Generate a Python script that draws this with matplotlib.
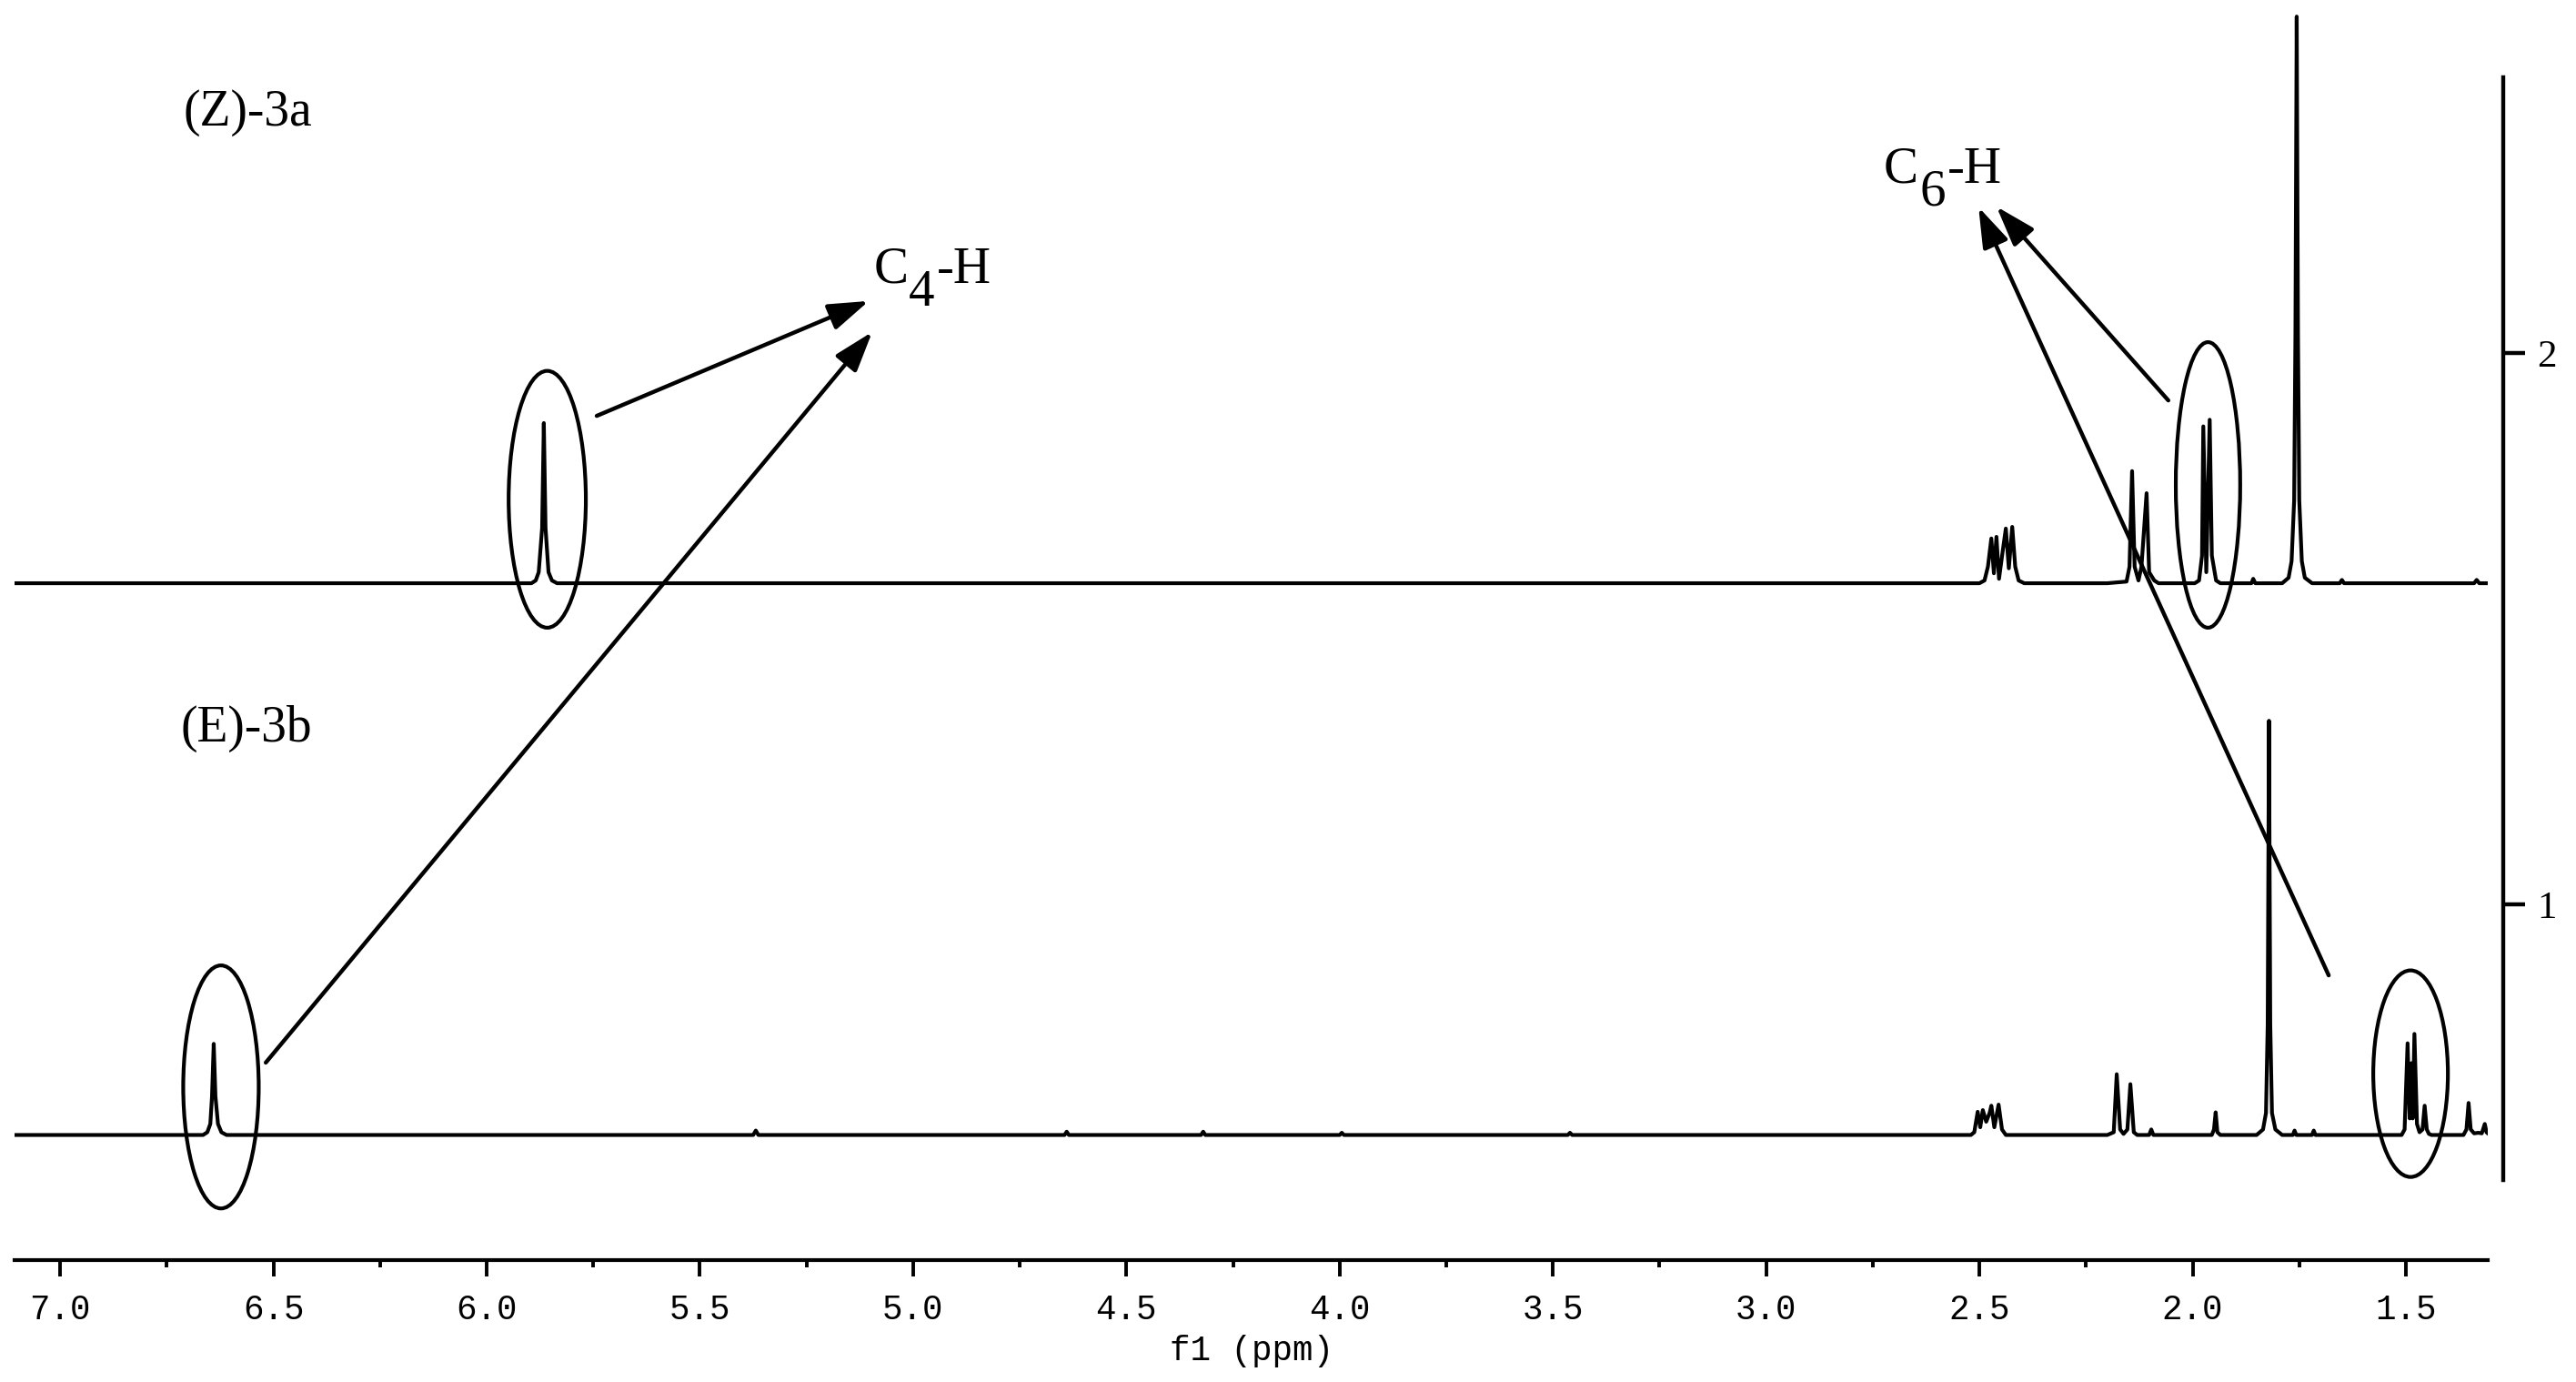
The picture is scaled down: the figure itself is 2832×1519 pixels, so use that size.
import numpy as np
import matplotlib
matplotlib.use('Agg')
import matplotlib.pyplot as plt
from matplotlib.patches import Ellipse

# 1H NMR traces: vertices (ppm, intensity above baseline)
# (Z)-3a, upper trace
z_ppm = [7.11, 5.895, 5.885, 5.878, 5.870, 5.866, 5.862, 5.855, 5.847, 5.835,
         2.500, 2.488, 2.480, 2.472, 2.466, 2.460, 2.454, 2.445, 2.438, 2.431, 2.423, 2.416, 2.408, 2.395,
         2.200, 2.155, 2.148, 2.142, 2.136, 2.127, 2.120, 2.108, 2.102, 2.090, 2.080,
         1.995, 1.985, 1.978, 1.975, 1.968, 1.960, 1.955, 1.945, 1.935,
         1.862, 1.858, 1.853,
         1.790, 1.775, 1.768, 1.762, 1.759, 1.756, 1.753, 1.750, 1.744, 1.737, 1.720,
         1.655, 1.650, 1.645,
         1.340, 1.334, 1.328, 1.310]
z_int = [0, 0, 0.005, 0.02, 0.10, 0.29, 0.10, 0.02, 0.005, 0,
         0, 0.005, 0.03, 0.081, 0.018, 0.084, 0.008, 0.06, 0.099, 0.027, 0.102, 0.03, 0.005, 0,
         0, 0.003, 0.03, 0.203, 0.03, 0.005, 0.03, 0.163, 0.02, 0.005, 0,
         0, 0.005, 0.05, 0.284, 0.02, 0.296, 0.05, 0.005, 0,
         0, 0.008, 0,
         0, 0.01, 0.04, 0.15, 0.45, 1.026, 0.45, 0.15, 0.04, 0.01, 0,
         0, 0.006, 0,
         0, 0.006, 0, 0]

# (E)-3b, lower trace
e_ppm = [7.11, 6.665, 6.655, 6.648, 6.644, 6.640, 6.636, 6.630, 6.622, 6.610,
         5.375, 5.369, 5.363,
         4.645, 4.640, 4.635,
         4.325, 4.320, 4.315,
         4.000, 3.995, 3.990,
         3.465, 3.460, 3.455,
         2.520, 2.512, 2.504, 2.498, 2.492, 2.484, 2.476, 2.472, 2.465, 2.455, 2.447, 2.438,
         2.200, 2.185, 2.178, 2.170, 2.162, 2.153, 2.146, 2.138, 2.130,
         2.102, 2.097, 2.092,
         1.955, 1.950, 1.946, 1.942, 1.935,
         1.850, 1.835, 1.828, 1.824, 1.821, 1.818, 1.814, 1.806, 1.790,
         1.765, 1.761, 1.757, 1.720, 1.716, 1.712,
         1.510, 1.503, 1.496, 1.491, 1.487, 1.484, 1.480, 1.474, 1.468, 1.461, 1.456, 1.451, 1.446, 1.440,
         1.365, 1.358, 1.353, 1.348, 1.340, 1.330, 1.322, 1.315, 1.311, 1.308]
e_int = [0, 0, 0.005, 0.02, 0.07, 0.165, 0.07, 0.02, 0.005, 0,
         0, 0.008, 0,
         0, 0.006, 0,
         0, 0.006, 0,
         0, 0.004, 0,
         0, 0.004, 0,
         0, 0.005, 0.042, 0.014, 0.045, 0.024, 0.04, 0.053, 0.014, 0.055, 0.01, 0,
         0, 0.005, 0.11, 0.01, 0.002, 0.01, 0.092, 0.005, 0,
         0, 0.01, 0,
         0, 0.01, 0.041, 0.005, 0,
         0, 0.01, 0.04, 0.2, 0.75, 0.2, 0.04, 0.01, 0,
         0, 0.008, 0, 0, 0.008, 0,
         0, 0.01, 0.166, 0.03, 0.13, 0.03, 0.183, 0.02, 0.005, 0.01, 0.053, 0.01, 0.002, 0,
         0, 0.01, 0.058, 0.01, 0.003, 0.004, 0.003, 0.02, 0.005, 0.003]

z_base = 1.583
e_base = 0.584

x_ticks = [7.0, 6.5, 6.0, 5.5, 5.0, 4.5, 4.0, 3.5, 3.0, 2.5, 2.0, 1.5]
x_ticklabels = ['7.0', '6.5', '6.0', '5.5', '5.0', '4.5', '4.0', '3.5', '3.0', '2.5', '2.0', '1.5']
y_ticks = [1, 2]

fig = plt.figure(figsize=(28.32, 15.19), dpi=100)
ax = fig.add_axes([0.00565, 0.08822, 0.9601, 0.91178])

lw = 3.0
ax.plot(z_ppm, np.array(z_int) + z_base, color='black', lw=lw, solid_joinstyle='round')
ax.plot(e_ppm, np.array(e_int) + e_base, color='black', lw=lw, solid_joinstyle='round')

ax.set_xlim(7.107, 1.308)
ax.set_ylim(0.3575, 2.639)

for s in ['left', 'right', 'top']:
    ax.spines[s].set_visible(False)
ax.spines['bottom'].set_linewidth(3.0)
ax.set_yticks([])
ax.set_xticks(x_ticks)
ax.set_xticks(np.arange(1.75, 7.0, 0.5), minor=True)
ax.set_xticklabels(x_ticklabels, family='Liberation Mono', fontsize=27)
ax.tick_params(axis='x', which='major', length=13, width=2.8, direction='out', pad=14)
ax.tick_params(axis='x', which='minor', length=6, width=2.8, direction='out')
ax.set_xlabel('f1 (ppm)', family='Liberation Mono', fontsize=27, labelpad=6)

# circled signals
for cx, cy, w, h in [(5.858, 1.735, 0.181, 0.465), (1.964, 1.761, 0.151, 0.517),
                     (6.623, 0.671, 0.177, 0.44), (1.489, 0.695, 0.175, 0.374)]:
    ax.add_patch(Ellipse((cx, cy), w, h, fill=False, ec='black', lw=lw))

# arrows to labels
arrow_style = dict(arrowstyle='-|>,head_length=0.9,head_width=0.3', mutation_scale=30,
                   color='black', lw=3.2, shrinkA=0, shrinkB=0)
for start, tip in [((5.742, 1.886), (5.104, 2.094)), ((6.518, 0.715), (5.096, 2.038)),
                   ((2.057, 1.914), (2.460, 2.265)), ((1.681, 0.873), (2.502, 2.264))]:
    ax.annotate('', xy=tip, xytext=start, arrowprops=arrow_style)

serif = 'Liberation Serif'
ax.text(6.712, 2.412, '(Z)-3a', family=serif, fontsize=40, va='baseline')
ax.text(6.718, 1.297, '(E)-3b', family=serif, fontsize=40, va='baseline')

for x0, y0, sub in [(5.093, 2.127, '4'), (2.724, 2.308, '6')]:
    ax.text(x0, y0, 'C', family=serif, fontsize=41, va='baseline')
    ax.annotate(sub, xy=(x0, y0), xytext=(39, -25), textcoords='offset pixels',
                family=serif, fontsize=41, va='baseline')
    ax.annotate('-H', xy=(x0, y0), xytext=(70, 0), textcoords='offset pixels',
                family=serif, fontsize=41, va='baseline')

# right-hand intensity scale
ax2 = fig.add_axes([(2752 - 3) / 2832, 0.14615, 3 / 2832, 0.79789])
ax2.set_ylim(0.5, 2.5)
ax2.patch.set_visible(False)
for s in ['left', 'top', 'bottom']:
    ax2.spines[s].set_visible(False)
ax2.spines['right'].set_linewidth(3.2)
ax2.set_xticks([])
ax2.yaxis.tick_right()
ax2.set_yticks(y_ticks)
ax2.set_yticklabels([str(t) for t in y_ticks], family=serif, fontsize=31)
ax2.tick_params(axis='y', length=17, width=3.2, direction='out', pad=10)

fig.savefig('out.png', dpi=100)
